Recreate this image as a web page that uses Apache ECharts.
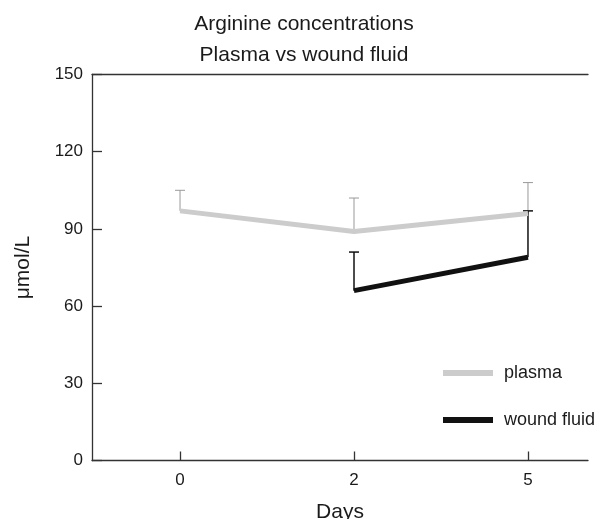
<!DOCTYPE html>
<html><head><meta charset="utf-8">
<script src="https://cdn.jsdelivr.net/npm/echarts@6/dist/echarts.min.js"></script>
<style>html,body{margin:0;padding:0;background:#fff}#c{width:608px;height:519px}</style>
</head><body><div id="c"></div>
<script>
const days = ['0', '2', '5'];
const plasmaMean = [97, 89, 96];
const plasmaUpper = [105, 102, 108];
const woundMean = [null, 66, 79];
const woundUpper = [null, 81, 97];
const yTicks = [0, 30, 60, 90, 120, 150];

const F = 'Liberation Sans, Arial, Helvetica, sans-serif';
const chart = echarts.init(document.getElementById('c'), null, {renderer: 'canvas'});

function pts(arr) { return arr.map((v, i) => v == null ? null : [i, v]).filter(p => p); }
function errData(mean, upper) { return mean.map((v, i) => v == null ? null : [i, v, upper[i]]).filter(p => p); }
function errSeries(name, mean, upper, color, w) {
  return {
    type: 'custom', name: name + ' err', z: 1, silent: true,
    data: errData(mean, upper),
    encode: {x: 0, y: [1, 2]},
    renderItem: function (params, api) {
      const lo = api.coord([api.value(0), api.value(1)]);
      const hi = api.coord([api.value(0), api.value(2)]);
      const cw = 5;
      return {type: 'group', children: [
        {type: 'line', shape: {x1: lo[0], y1: lo[1], x2: hi[0], y2: hi[1]}, style: {stroke: color, lineWidth: w}},
        {type: 'line', shape: {x1: hi[0] - cw, y1: hi[1], x2: hi[0] + cw, y2: hi[1]}, style: {stroke: color, lineWidth: w}}
      ]};
    }
  };
}

chart.setOption({
  animation: false,
  title: {
    text: 'Arginine concentrations\nPlasma vs wound fluid',
    left: 'center', top: 4,
    textStyle: {fontFamily: F, fontSize: 21, fontWeight: 'normal', color: '#1a1a1a', lineHeight: 31}
  },
  legend: {
    data: ['plasma', 'wound fluid'],
    orient: 'vertical', left: 438, top: 358,
    itemWidth: 50, itemHeight: 6, itemGap: 27, icon: 'rect',
    textStyle: {fontFamily: F, fontSize: 18, lineHeight: 20, color: '#1a1a1a', padding: [0, 0, 0, 6]}
  },
  grid: {left: 92, right: 20, top: 74.5, bottom: 58.5, containLabel: false, outerBoundsMode: 'none'},
  xAxis: [{
    type: 'value', min: -0.506, max: 2.345,
    name: 'Days', nameLocation: 'middle', nameGap: 41,
    nameTextStyle: {fontFamily: F, fontSize: 21, color: '#1a1a1a'},
    axisLine: {onZero: false, lineStyle: {color: '#333', width: 1.3}},
    splitLine: {show: false},
    axisTick: {inside: true, length: 9, customValues: [0, 1, 2], lineStyle: {color: '#333', width: 1.3}},
    axisLabel: {customValues: [0, 1, 2], formatter: v => days[Math.round(v)], margin: 11,
      fontFamily: F, fontSize: 17, color: '#1a1a1a'}
  }, {
    type: 'value', position: 'top', min: -0.506, max: 2.345,
    axisLine: {show: true, onZero: false, lineStyle: {color: '#333', width: 1.3}},
    axisTick: {show: false}, axisLabel: {show: false}, splitLine: {show: false}
  }],
  yAxis: {
    type: 'value', min: 0, max: 150, interval: 30,
    name: 'μmol/L', nameLocation: 'middle', nameGap: 58, nameRotate: 90,
    nameTextStyle: {fontFamily: F, fontSize: 21, color: '#1a1a1a'},
    axisLine: {show: true, onZero: false, lineStyle: {color: '#333', width: 1.3}},
    splitLine: {show: false},
    axisTick: {inside: true, length: 10, lineStyle: {color: '#333', width: 1.3}},
    axisLabel: {formatter: v => yTicks.includes(v) ? String(v) : '', margin: 9,
      fontFamily: F, fontSize: 17, color: '#1a1a1a'}
  },
  series: [
    errSeries('plasma', plasmaMean, plasmaUpper, '#999999', 1),
    errSeries('wound fluid', woundMean, woundUpper, '#111111', 1.5),
    {type: 'line', name: 'plasma', data: pts(plasmaMean), symbol: 'none', z: 3,
      lineStyle: {color: '#cccccc', width: 5}, itemStyle: {color: '#cccccc'}},
    {type: 'line', name: 'wound fluid', data: pts(woundMean), symbol: 'none', z: 3,
      lineStyle: {color: '#111111', width: 5}, itemStyle: {color: '#111111'}}
  ]
});
</script></body></html>
